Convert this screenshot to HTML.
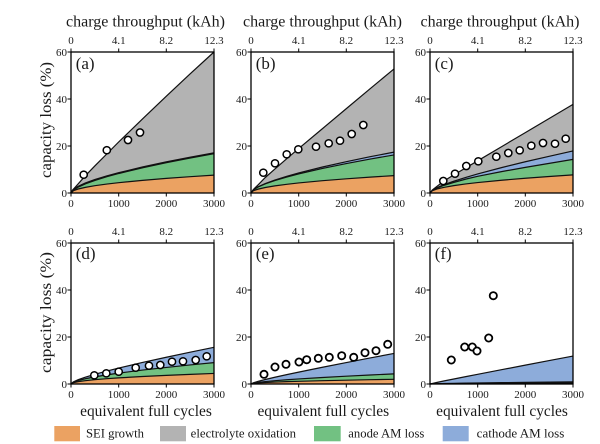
<!DOCTYPE html>
<html><head><meta charset="utf-8"><style>
html,body{margin:0;padding:0;background:#fff;}
svg{display:block;}
svg text{font-family:"Liberation Serif","DejaVu Serif","Noto Serif CJK SC",serif;fill:#1a1a1a;}
.tk{font-size:11px;}
.lb{font-size:15.5px;}
.pl{font-size:17px;}
.lg{font-size:12.5px;}
.ln{fill:none;stroke:#111;stroke-width:1.2;}
.fr{fill:none;stroke:#000;stroke-width:1.3;}
.ti{stroke:#000;stroke-width:1;}
.pt circle{fill:#fff;stroke:#000;stroke-width:1.5;}
</style></head><body>
<svg width="600" height="444" viewBox="0 0 600 444" xmlns="http://www.w3.org/2000/svg" font-family="Liberation Serif, DejaVu Serif, Noto Serif CJK SC, serif">
<rect width="600" height="444" fill="#fff"/>

<!-- (a) -->
<g transform="translate(71,193) scale(0.0476667,-2.35)">
<polygon fill="#b3b3b3" points="0,0 50,1.6 150,3.9 300,7.3 500,11.5 750,16.6 1000,21.7 1500,31.5 2000,41.2 2500,50.7 3000,60 3000,0"/>
<polygon fill="#72c182" points="0,0 50,1.41 150,2.68 300,4.05 500,5.53 750,7.09 1000,8.47 1500,10.90 2000,13.07 2500,15.05 3000,16.9 3000,0"/>
<polygon fill="#eba262" points="0,0 50,.98 150,1.70 300,2.40 500,3.10 750,3.80 1000,4.39 1500,5.37 2000,6.21 2500,6.94 3000,7.6 3000,0"/>
<polyline class="ln" vector-effect="non-scaling-stroke" points="0,0 50,.98 150,1.70 300,2.40 500,3.10 750,3.80 1000,4.39 1500,5.37 2000,6.21 2500,6.94 3000,7.6"/>
<polyline class="ln" style="stroke-width:2" vector-effect="non-scaling-stroke" points="0,0 50,1.41 150,2.68 300,4.05 500,5.53 750,7.09 1000,8.47 1500,10.90 2000,13.07 2500,15.05 3000,16.9"/>
<polyline class="ln" vector-effect="non-scaling-stroke" points="0,0 50,1.6 150,3.9 300,7.3 500,11.5 750,16.6 1000,21.7 1500,31.5 2000,41.2 2500,50.7 3000,60"/>
</g>

<!-- (b) -->
<g transform="translate(251,193) scale(0.0476667,-2.35)">
<polygon fill="#b3b3b3" points="0,0 50,1.5 150,3.5 300,6.6 500,10.2 750,14.6 1000,18.9 1500,27.4 2000,35.9 2500,44.4 3000,52.8 3000,0"/>
<polygon fill="#8dacda" points="0,0 50,1.39 150,2.64 300,4.02 500,5.52 750,7.11 1000,8.53 1500,11.06 2000,13.33 2500,15.44 3000,17.4 3000,0"/>
<polygon fill="#72c182" points="0,0 50,1.37 150,2.58 300,3.90 500,5.32 750,6.81 1000,8.13 1500,10.46 2000,12.53 2500,14.44 3000,16.2 3000,0"/>
<polygon fill="#eba262" points="0,0 50,.96 150,1.65 300,2.34 500,3.02 750,3.70 1000,4.27 1500,5.23 2000,6.04 2500,6.76 3000,7.4 3000,0"/>
<polyline class="ln" vector-effect="non-scaling-stroke" points="0,0 50,.96 150,1.65 300,2.34 500,3.02 750,3.70 1000,4.27 1500,5.23 2000,6.04 2500,6.76 3000,7.4"/>
<polyline class="ln" vector-effect="non-scaling-stroke" points="0,0 50,1.37 150,2.58 300,3.90 500,5.32 750,6.81 1000,8.13 1500,10.46 2000,12.53 2500,14.44 3000,16.2"/>
<polyline class="ln" vector-effect="non-scaling-stroke" points="0,0 50,1.39 150,2.64 300,4.02 500,5.52 750,7.11 1000,8.53 1500,11.06 2000,13.33 2500,15.44 3000,17.4"/>
<polyline class="ln" vector-effect="non-scaling-stroke" points="0,0 50,1.5 150,3.5 300,6.6 500,10.2 750,14.6 1000,18.9 1500,27.4 2000,35.9 2500,44.4 3000,52.8"/>
</g>

<!-- (c) -->
<g transform="translate(430,193) scale(0.0476667,-2.35)">
<polygon fill="#b3b3b3" points="0,0 50,1.3 150,2.9 300,5.2 500,7.7 750,10.7 1000,13.7 1500,19.7 2000,25.7 2500,31.7 3000,37.7 3000,0"/>
<polygon fill="#8dacda" points="0,0 50,1.2 150,2.3 300,3.6 500,5.0 750,6.6 1000,8.1 1500,10.8 2000,13.3 2500,15.6 3000,17.9 3000,0"/>
<polygon fill="#72c182" points="0,0 50,1.15 150,2.15 300,3.3 500,4.5 750,5.9 1000,7.1 1500,9.1 2000,10.9 2500,12.6 3000,14.3 3000,0"/>
<polygon fill="#eba262" points="0,0 50,.99 150,1.72 300,2.43 500,3.14 750,3.85 1000,4.45 1500,5.44 2000,6.29 2500,7.03 3000,7.7 3000,0"/>
<polyline class="ln" vector-effect="non-scaling-stroke" points="0,0 50,.99 150,1.72 300,2.43 500,3.14 750,3.85 1000,4.45 1500,5.44 2000,6.29 2500,7.03 3000,7.7"/>
<polyline class="ln" vector-effect="non-scaling-stroke" points="0,0 50,1.15 150,2.15 300,3.3 500,4.5 750,5.9 1000,7.1 1500,9.1 2000,10.9 2500,12.6 3000,14.3"/>
<polyline class="ln" vector-effect="non-scaling-stroke" points="0,0 50,1.2 150,2.3 300,3.6 500,5.0 750,6.6 1000,8.1 1500,10.8 2000,13.3 2500,15.6 3000,17.9"/>
<polyline class="ln" vector-effect="non-scaling-stroke" points="0,0 50,1.3 150,2.9 300,5.2 500,7.7 750,10.7 1000,13.7 1500,19.7 2000,25.7 2500,31.7 3000,37.7"/>
</g>

<!-- (d) -->
<g transform="translate(71,384) scale(0.0476667,-2.35)">
<polygon fill="#8dacda" points="0,0 50,.90 150,1.83 300,2.89 500,4.12 750,5.51 1000,6.79 1500,9.17 2000,11.39 2500,13.54 3000,15.6 3000,0"/>
<polygon fill="#72c182" points="0,0 50,.79 150,1.50 300,2.24 500,3.04 750,3.88 1000,4.62 1500,5.92 2000,7.06 2500,8.12 3000,9.1 3000,0"/>
<polygon fill="#eba262" points="0,0 50,.58 150,1.01 300,1.42 500,1.84 750,2.25 1000,2.60 1500,3.18 2000,3.67 2500,4.11 3000,4.5 3000,0"/>
<polyline class="ln" vector-effect="non-scaling-stroke" points="0,0 50,.58 150,1.01 300,1.42 500,1.84 750,2.25 1000,2.60 1500,3.18 2000,3.67 2500,4.11 3000,4.5"/>
<polyline class="ln" vector-effect="non-scaling-stroke" points="0,0 50,.79 150,1.50 300,2.24 500,3.04 750,3.88 1000,4.62 1500,5.92 2000,7.06 2500,8.12 3000,9.1"/>
<polyline class="ln" vector-effect="non-scaling-stroke" points="0,0 50,.90 150,1.83 300,2.89 500,4.12 750,5.51 1000,6.79 1500,9.17 2000,11.39 2500,13.54 3000,15.6"/>
</g>

<!-- (e) -->
<g transform="translate(251,384) scale(0.0476667,-2.35)">
<polygon fill="#8dacda" points="0,0 50,.52 150,1.13 300,1.91 500,2.87 750,3.99 1000,5.06 1500,7.13 2000,9.13 2500,11.09 3000,13.0 3000,0"/>
<polygon fill="#72c182" points="0,0 50,.37 150,.69 300,1.04 500,1.42 750,1.81 1000,2.16 1500,2.78 2000,3.33 2500,3.84 3000,4.3 3000,0"/>
<polygon fill="#eba262" points="0,0 50,.26 150,.45 300,.63 500,.82 750,1.0 1000,1.15 1500,1.41 2000,1.63 2500,1.83 3000,2.0 3000,0"/>
<polyline class="ln" vector-effect="non-scaling-stroke" points="0,0 50,.26 150,.45 300,.63 500,.82 750,1.0 1000,1.15 1500,1.41 2000,1.63 2500,1.83 3000,2.0"/>
<polyline class="ln" vector-effect="non-scaling-stroke" points="0,0 50,.37 150,.69 300,1.04 500,1.42 750,1.81 1000,2.16 1500,2.78 2000,3.33 2500,3.84 3000,4.3"/>
<polyline class="ln" vector-effect="non-scaling-stroke" points="0,0 50,.52 150,1.13 300,1.91 500,2.87 750,3.99 1000,5.06 1500,7.13 2000,9.13 2500,11.09 3000,13.0"/>
</g>

<!-- (f) -->
<g transform="translate(430,384) scale(0.0476667,-2.35)">
<polygon fill="#8dacda" points="0,0 50,.25 150,.69 300,1.32 500,2.12 750,3.13 1000,4.12 1500,6.08 2000,8.03 2500,9.97 3000,11.9 3000,0"/>
<polygon fill="#72c182" points="0,0 50,.07 150,.14 300,.22 500,.29 750,.38 1000,.45 1500,.58 2000,.70 2500,.81 3000,.9 3000,0"/>
<polygon fill="#eba262" points="0,0 50,.05 150,.09 300,.13 500,.16 750,.2 1000,.23 1500,.28 2000,.33 2500,.37 3000,.4 3000,0"/>
<polyline class="ln" vector-effect="non-scaling-stroke" points="0,0 50,.05 150,.09 300,.13 500,.16 750,.2 1000,.23 1500,.28 2000,.33 2500,.37 3000,.4"/>
<polyline class="ln" vector-effect="non-scaling-stroke" points="0,0 50,.07 150,.14 300,.22 500,.29 750,.38 1000,.45 1500,.58 2000,.70 2500,.81 3000,.9"/>
<polyline class="ln" vector-effect="non-scaling-stroke" points="0,0 50,.25 150,.69 300,1.32 500,2.12 750,3.13 1000,4.12 1500,6.08 2000,8.03 2500,9.97 3000,11.9"/>
</g>

<!-- data points -->
<g class="pt">
<circle cx="83.7" cy="174.7" r="3.6"/><circle cx="106.8" cy="150.2" r="3.6"/><circle cx="128" cy="140" r="3.6"/><circle cx="140" cy="132.5" r="3.6"/>

<circle cx="263.3" cy="172.7" r="3.6"/><circle cx="275" cy="163.3" r="3.6"/><circle cx="286.7" cy="154.3" r="3.6"/><circle cx="298.3" cy="149.3" r="3.6"/><circle cx="316" cy="146.7" r="3.6"/><circle cx="328.7" cy="143.3" r="3.6"/><circle cx="340" cy="140.7" r="3.6"/><circle cx="351.7" cy="134" r="3.6"/><circle cx="363.3" cy="125" r="3.6"/>

<circle cx="443.3" cy="181" r="3.6"/><circle cx="455" cy="173.7" r="3.6"/><circle cx="466.3" cy="166" r="3.6"/><circle cx="478.3" cy="161.3" r="3.6"/><circle cx="496.3" cy="156.7" r="3.6"/><circle cx="508.3" cy="153" r="3.6"/><circle cx="519.7" cy="150.3" r="3.6"/><circle cx="531.3" cy="145.7" r="3.6"/><circle cx="543" cy="143" r="3.6"/><circle cx="555" cy="143.7" r="3.6"/><circle cx="565.7" cy="138.7" r="3.6"/>

<circle cx="94.3" cy="375.3" r="3.6"/><circle cx="106.3" cy="373.3" r="3.6"/><circle cx="118.7" cy="371.7" r="3.6"/><circle cx="135.7" cy="367.7" r="3.6"/><circle cx="149" cy="365.7" r="3.6"/><circle cx="160.3" cy="365" r="3.6"/><circle cx="172" cy="361.7" r="3.6"/><circle cx="183" cy="361.3" r="3.6"/><circle cx="195.7" cy="360" r="3.6"/><circle cx="206.7" cy="356.3" r="3.6"/>

<circle cx="264" cy="374.3" r="3.6" style="stroke-width:1.8"/><circle cx="275" cy="367" r="3.6" style="stroke-width:1.8"/><circle cx="286" cy="364.3" r="3.6" style="stroke-width:1.8"/><circle cx="299" cy="362" r="3.6" style="stroke-width:1.8"/><circle cx="306.7" cy="359.7" r="3.6" style="stroke-width:1.8"/><circle cx="318.3" cy="358.3" r="3.6" style="stroke-width:1.8"/><circle cx="329.3" cy="357.3" r="3.6" style="stroke-width:1.8"/><circle cx="341.7" cy="355.7" r="3.6" style="stroke-width:1.8"/><circle cx="353.7" cy="357.3" r="3.6" style="stroke-width:1.8"/><circle cx="365" cy="352.7" r="3.6" style="stroke-width:1.8"/><circle cx="376" cy="350.7" r="3.6" style="stroke-width:1.8"/><circle cx="387.7" cy="344.3" r="3.6" style="stroke-width:1.8"/>

<circle cx="451.3" cy="360" r="3.6" style="stroke-width:1.8"/><circle cx="464.7" cy="347" r="3.6" style="stroke-width:1.8"/><circle cx="472.3" cy="347" r="3.6" style="stroke-width:1.8"/><circle cx="477" cy="351" r="3.6" style="stroke-width:1.8"/><circle cx="488.7" cy="338" r="3.6" style="stroke-width:1.8"/><circle cx="493.3" cy="295.7" r="3.6" style="stroke-width:1.8"/>
</g>

<!-- frames -->
<rect class="fr" x="71" y="52" width="143" height="141"/>
<rect class="fr" x="251" y="52" width="143" height="141"/>
<rect class="fr" x="430" y="52" width="143" height="141"/>
<rect class="fr" x="71" y="243" width="143" height="141"/>
<rect class="fr" x="251" y="243" width="143" height="141"/>
<rect class="fr" x="430" y="243" width="143" height="141"/>

<!-- ticks -->
<g class="ti">
<path d="M67.5 193H71M67.5 146H71M67.5 99H71M67.5 52H71"/>
<path d="M247.5 193H251M247.5 146H251M247.5 99H251M247.5 52H251"/>
<path d="M426.5 193H430M426.5 146H430M426.5 99H430M426.5 52H430"/>
<path d="M67.5 384H71M67.5 337H71M67.5 290H71M67.5 243H71"/>
<path d="M247.5 384H251M247.5 337H251M247.5 290H251M247.5 243H251"/>
<path d="M426.5 384H430M426.5 337H430M426.5 290H430M426.5 243H430"/>
<path d="M71 193V196.5M118.7 193V196.5M166.3 193V196.5M214 193V196.5M71 52V48.5M118.7 52V48.5M166.3 52V48.5M214 52V48.5"/>
<path d="M251 193V196.5M298.7 193V196.5M346.3 193V196.5M394 193V196.5M251 52V48.5M298.7 52V48.5M346.3 52V48.5M394 52V48.5"/>
<path d="M430 193V196.5M477.7 193V196.5M525.3 193V196.5M573 193V196.5M430 52V48.5M477.7 52V48.5M525.3 52V48.5M573 52V48.5"/>
<path d="M71 384V387.5M118.7 384V387.5M166.3 384V387.5M214 384V387.5M71 243V239.5M118.7 243V239.5M166.3 243V239.5M214 243V239.5"/>
<path d="M251 384V387.5M298.7 384V387.5M346.3 384V387.5M394 384V387.5M251 243V239.5M298.7 243V239.5M346.3 243V239.5M394 243V239.5"/>
<path d="M430 384V387.5M477.7 384V387.5M525.3 384V387.5M573 384V387.5M430 243V239.5M477.7 243V239.5M525.3 243V239.5M573 243V239.5"/>
</g>

<!-- y tick labels -->
<g class="tk" text-anchor="end">
<text x="67" y="197">0</text><text x="67" y="150">20</text><text x="67" y="103">40</text><text x="67" y="56">60</text>
<text x="247" y="197">0</text><text x="247" y="150">20</text><text x="247" y="103">40</text><text x="247" y="56">60</text>
<text x="426" y="197">0</text><text x="426" y="150">20</text><text x="426" y="103">40</text><text x="426" y="56">60</text>
<text x="67" y="388">0</text><text x="67" y="341">20</text><text x="67" y="294">40</text><text x="67" y="247">60</text>
<text x="247" y="388">0</text><text x="247" y="341">20</text><text x="247" y="294">40</text><text x="247" y="247">60</text>
<text x="426" y="388">0</text><text x="426" y="341">20</text><text x="426" y="294">40</text><text x="426" y="247">60</text>
</g>

<!-- x tick labels -->
<g class="tk" text-anchor="middle">
<text x="71" y="207">0</text><text x="118.7" y="207">1000</text><text x="166.3" y="207">2000</text><text x="214" y="207">3000</text>
<text x="251" y="207">0</text><text x="298.7" y="207">1000</text><text x="346.3" y="207">2000</text><text x="394" y="207">3000</text>
<text x="430" y="207">0</text><text x="477.7" y="207">1000</text><text x="525.3" y="207">2000</text><text x="573" y="207">3000</text>
<text x="71" y="398">0</text><text x="118.7" y="398">1000</text><text x="166.3" y="398">2000</text><text x="214" y="398">3000</text>
<text x="251" y="398">0</text><text x="298.7" y="398">1000</text><text x="346.3" y="398">2000</text><text x="394" y="398">3000</text>
<text x="430" y="398">0</text><text x="477.7" y="398">1000</text><text x="525.3" y="398">2000</text><text x="573" y="398">3000</text>

<text x="71" y="44">0</text><text x="118.7" y="44">4.1</text><text x="166.3" y="44">8.2</text><text x="214" y="44">12.3</text>
<text x="251" y="44">0</text><text x="298.7" y="44">4.1</text><text x="346.3" y="44">8.2</text><text x="394" y="44">12.3</text>
<text x="430" y="44">0</text><text x="477.7" y="44">4.1</text><text x="525.3" y="44">8.2</text><text x="573" y="44">12.3</text>
<text x="71" y="235">0</text><text x="118.7" y="235">4.1</text><text x="166.3" y="235">8.2</text><text x="214" y="235">12.3</text>
<text x="251" y="235">0</text><text x="298.7" y="235">4.1</text><text x="346.3" y="235">8.2</text><text x="394" y="235">12.3</text>
<text x="430" y="235">0</text><text x="477.7" y="235">4.1</text><text x="525.3" y="235">8.2</text><text x="573" y="235">12.3</text>
</g>

<!-- axis labels -->
<g class="lb" text-anchor="middle">
<text x="145.5" y="26.5" textLength="159" lengthAdjust="spacingAndGlyphs">charge throughput (kAh)</text>
<text x="322.5" y="26.5" textLength="159" lengthAdjust="spacingAndGlyphs">charge throughput (kAh)</text>
<text x="500" y="26.5" textLength="159" lengthAdjust="spacingAndGlyphs">charge throughput (kAh)</text>
<text x="146" y="416" textLength="131.7" lengthAdjust="spacingAndGlyphs">equivalent full cycles</text>
<text x="323.3" y="416" textLength="131.7" lengthAdjust="spacingAndGlyphs">equivalent full cycles</text>
<text x="502" y="416" textLength="131.7" lengthAdjust="spacingAndGlyphs">equivalent full cycles</text>
<text transform="translate(51,120) rotate(-90)" textLength="116" lengthAdjust="spacingAndGlyphs">capacity loss (%)</text>
<text transform="translate(51,312.5) rotate(-90)" textLength="121" lengthAdjust="spacingAndGlyphs">capacity loss (%)</text>
</g>

<!-- panel letters -->
<g class="pl">
<text x="75.7" y="69">(a)</text>
<text x="255.7" y="69">(b)</text>
<text x="434.7" y="69">(c)</text>
<text x="75.7" y="259">(d)</text>
<text x="255.7" y="259">(e)</text>
<text x="434.7" y="259">(f)</text>
</g>

<!-- legend -->
<rect x="54.3" y="426" width="25.7" height="15.3" fill="#eba262"/>
<rect x="160" y="426" width="26" height="15.3" fill="#b3b3b3"/>
<rect x="314" y="426" width="26.7" height="15.3" fill="#72c182"/>
<rect x="442.7" y="426" width="26" height="15.3" fill="#8dacda"/>
<g class="lg">
<text x="86" y="437.5" textLength="58" lengthAdjust="spacingAndGlyphs">SEI growth</text>
<text x="190.7" y="437.5" textLength="105.3" lengthAdjust="spacingAndGlyphs">electrolyte oxidation</text>
<text x="348.3" y="437.5" textLength="76" lengthAdjust="spacingAndGlyphs">anode AM loss</text>
<text x="476.7" y="437.5" textLength="87.6" lengthAdjust="spacingAndGlyphs">cathode AM loss</text>
</g>
</svg>
</body></html>
